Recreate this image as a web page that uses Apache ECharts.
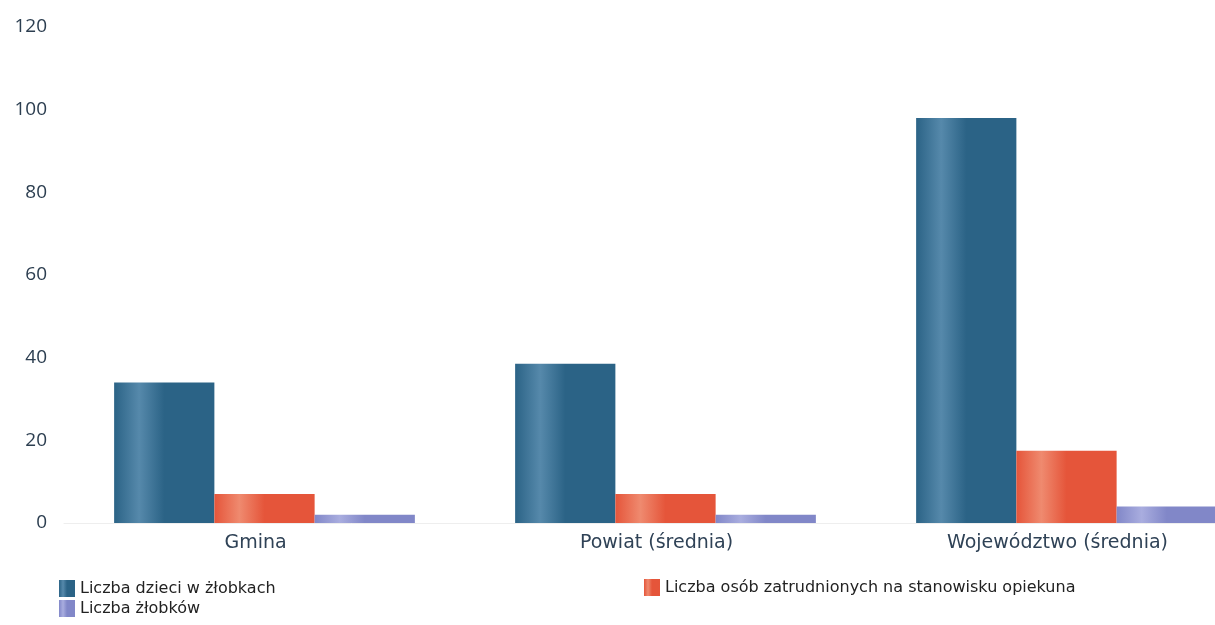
<!DOCTYPE html>
<html>
<head>
<meta charset="utf-8">
<script src="https://cdn.jsdelivr.net/npm/echarts@6/dist/echarts.min.js"></script>
<style>
  html, body { margin: 0; padding: 0; background: #fff; }
  #chart { width: 1215px; height: 625px; }
</style>
</head>
<body>
<div id="chart"></div>
<script>
const categories = ['Gmina', 'Powiat (średnia)', 'Województwo (średnia)'];
const seriesNames = [
  'Liczba dzieci w żłobkach',
  'Liczba osób zatrudnionych na stanowisku opiekuna',
  'Liczba żłobków'
];
const dzieci = [34, 38.5, 98];
const opiekunowie = [7, 7, 17.5];
const zlobki = [2, 2, 4];

// poziomy gradient dla efektu "walca"
function shade(dark, light) {
  return new echarts.graphic.LinearGradient(0, 0, 1, 0, [
    { offset: 0, color: dark },
    { offset: 0.25, color: light },
    { offset: 0.5, color: dark },
    { offset: 1, color: dark }
  ]);
}

const legendText = { fontFamily: 'DejaVu Sans', fontSize: 16, color: '#222' };

const chart = echarts.init(document.getElementById('chart'));
chart.setOption({
  animation: false,
  grid: { left: 64, width: 1203, top: 27, bottom: 102, outerBoundsMode: 'none' },
  legend: [
    {
      data: [seriesNames[0], seriesNames[2]],
      orient: 'vertical',
      left: 59, top: 580, padding: 0,
      itemWidth: 16, itemHeight: 17, itemGap: 3,
      icon: 'rect',
      textStyle: legendText
    },
    {
      data: [seriesNames[1]],
      left: 644, top: 579, padding: 0,
      itemWidth: 16, itemHeight: 17,
      icon: 'rect',
      textStyle: legendText
    }
  ],
  xAxis: {
    type: 'category',
    data: categories,
    axisLine: { lineStyle: { color: '#eeeeee' } },
    axisTick: { show: false },
    axisLabel: {
      fontFamily: 'DejaVu Sans', fontSize: 19, color: '#2f4256', margin: 11,
      padding: [0, 18, 0, 0]
    }
  },
  yAxis: {
    type: 'value',
    min: 0, max: 120, interval: 20,
    splitLine: { show: false },
    axisLine: { show: false },
    axisTick: { show: false },
    axisLabel: { fontFamily: 'Open Sans', fontSize: 19, color: '#2c3e50', margin: 17 }
  },
  series: [
    {
      name: seriesNames[0], type: 'bar', data: dzieci,
      barGap: '0%', barCategoryGap: '25%',
      itemStyle: { color: shade('#2b6386', '#5689ab') }
    },
    {
      name: seriesNames[1], type: 'bar', data: opiekunowie,
      itemStyle: { color: shade('#e5553a', '#ef8a6f') }
    },
    {
      name: seriesNames[2], type: 'bar', data: zlobki,
      itemStyle: { color: shade('#8187c8', '#a9addf') }
    }
  ]
});
</script>
</body>
</html>
